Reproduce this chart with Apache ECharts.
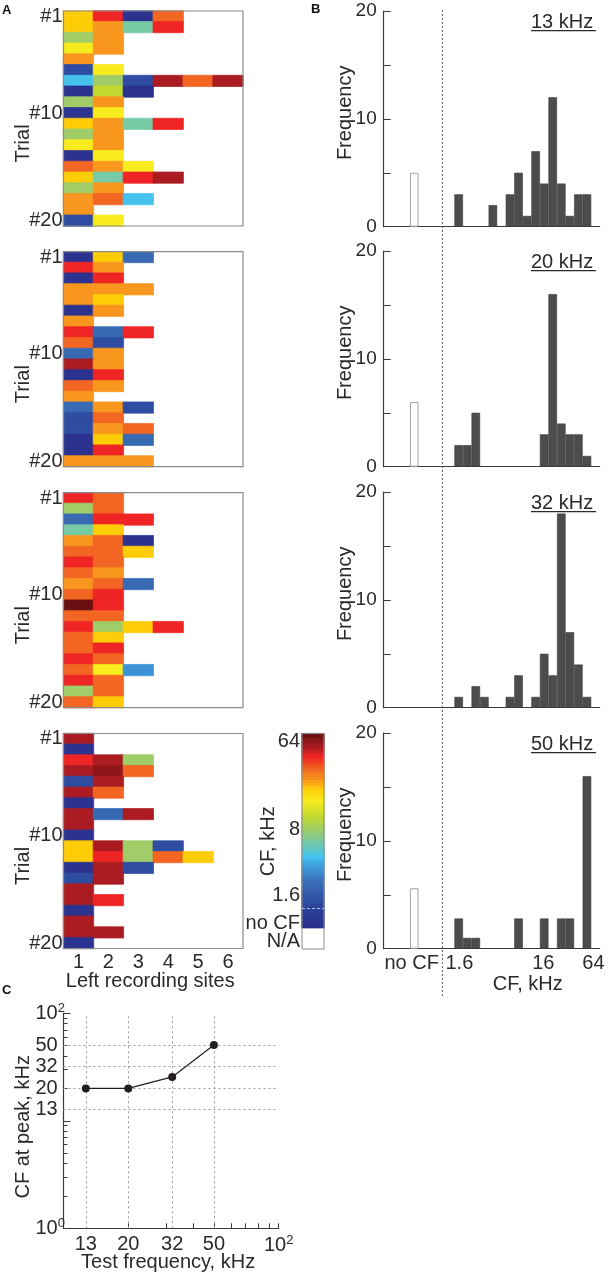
<!DOCTYPE html>
<html>
<head>
<meta charset="utf-8">
<style>html,body{margin:0;padding:0;background:#fff}#c{width:608px;height:1275px}</style>
<script src="https://cdn.jsdelivr.net/npm/echarts@6/dist/echarts.min.js"></script>
</head>
<body>
<div id="c"></div>
<script>
// colour levels (position along the colour bar, 0-100); null = N/A
const D=2,B=13,M=22,P=30,C=37,T=44,G=51,L=58,Y=66,F=72,O=77,R=83,E=89,K=94,W=97,X=100;
const sites=['1','2','3','4','5','6'];
const trialLabels=['#1','','','','','','','','','#10','','','','','','','','','','#20'];
const trials13=[[F,E,D,R],[F,O,T,E],[G,O],[Y,O],[O],[B,Y],[C,G,B,K,R,K],[D,L,D],[G,O],[D,Y],[F,O,T,E],[G,O],[Y,O],[D,Y],[R,O,Y],[F,T,E,K],[G,O],[O,R,C],[O],[B,Y]];
const trials20=[[D,F,M],[E,O],[D,E],[O,O,O],[O,F],[D,O],[O],[E,M,E],[R,B],[M,O],[K,O],[D,E],[R,O],[O],[M,O,B],[B,R],[B,O,R],[D,F,M],[D,E],[O,O,O]];
const trials32=[[E,R],[G,R],[M,E,E],[T,F],[O,R,D],[R,R,F],[E,R],[R,O],[O,R,M],[R,E],[X,E],[R,R],[E,G,F,E],[R,F],[R,E],[E,R],[R,Y,P],[E,R],[G,R],[R,F]];
const trials50=[[K],[D],[E,K,G],[K,W,R],[B,K],[K,R],[D],[K,M,K],[K],[D],[F,K,G,B],[F,E,G,R,F],[D,K,B],[B,K],[K],[K,E],[D],[K],[K,K],[D]];
const trialPanels=[trials13,trials20,trials32,trials50];

// histogram: 1/3-octave CF bins (index 0 = 1.6 kHz bin), no-CF count apart
const cfBins=[0,1,2,3,4,5,6,7,8,9,10,11,12,13,14,15];
const counts13=[3,0,0,0,2,0,3,5,1,7,4,12,4,1,3,3];
const counts20=[2,2,5,0,0,0,0,0,0,0,3,16,4,3,3,1];
const counts32=[1,0,2,1,0,0,1,3,0,1,5,3,18,7,4,1];
const counts50=[2.8,1,1,0,0,0,0,2.8,0,0,2.8,0,2.8,2.8,0,16];
const histPanels=[counts13,counts20,counts32,counts50];
const noCfCounts=[5,6,0,5.6];
const noCfBin=-5.2;
const dividerBin=-1.4;
const testNames=['13 kHz','20 kHz','32 kHz','50 kHz'];
const cfTickValues=[-5,0.58,10.4,16.26];
const cfTickLabels=['no CF','1.6','16','64'];

// panel C
const testFreq=[12.7,20,32,50];
const cfAtPeak=[20,20,25.6,50.8];
const refLevels=[12.7,20,32,50];
const xLabelValues=[12.7,20,32,50,100];
const xLabelTexts=['13','20','32','50','{b|10}{s|2}'];
const yLabelValues=[1,12.7,20,32,50,100];
const yLabelTexts=['{b|10}{s|0}','13','20','32','50','{b|10}{s|2}'];
const logMinorX=[20,30,40,50,60,70,80,90,100];
const logMinorY=[2,3,4,5,6,7,8,9,20,30,40,50,60,70,80,90];
const logMajorY=[10,100];

// colour bar
const cbLabels={2:'N/A',8:'no CF',17:'1.6',39:'8',68:'64'};
const cbRows=71, cbBlank=7, cbDashRow=13;
const colourStops=[[0,'#2b2e8d'],[11,'#2c469e'],[24,'#3a70b8'],[30,'#3c94d6'],[37,'#45c3ee'],[44,'#76caa6'],[51,'#a0cd67'],[58,'#c4d92f'],[66,'#f9ec1e'],[72,'#ffcc08'],[77,'#f8961d'],[83,'#f26522'],[89,'#ee2524'],[94,'#aa1c22'],[97,'#8f161b'],[100,'#6b1012']];

const FONT='"Liberation Sans", Arial, sans-serif', INK='#2b2a29';
function hex(c){return [1,3,5].map(i=>parseInt(c.substr(i,2),16));}
const ramp=[];
for(let v=0;v<=100;v++){
  let j=0; while(j<colourStops.length-2&&colourStops[j+1][0]<v) j++;
  const a=colourStops[j],b=colourStops[j+1],t=(v-a[0])/(b[0]-a[0]);
  const ca=hex(a[1]),cb=hex(b[1]);
  ramp.push('rgb('+ca.map((x,i)=>Math.round(x+(cb[i]-x)*t)).join(',')+')');
}
const cell=(x,y,v)=>({value:[x,y,v],itemStyle:{borderColor:ramp[v],borderWidth:0.7}});

const grid=[],xAxis=[],yAxis=[],series=[],title=[],graphic=[];
const heatSeriesIdx=[];
const txt=(size,extra)=>Object.assign({fontFamily:FONT,fontSize:size,color:INK},extra||{});

// Panel A
const heatTops=[11,251.7,492.7,733.5];
trialPanels.forEach((rows,p)=>{
  const g=grid.length;
  grid.push({left:63.5,top:heatTops[p],width:179.5,height:215,show:true,z:3,backgroundColor:'transparent',borderColor:'#8c8c8c',borderWidth:1.2});
  xAxis.push({gridIndex:g,type:'category',data:sites,axisLine:{show:false},axisTick:{show:false},
    axisLabel:p===3?txt(20,{margin:4,interval:0}):{show:false},
    name:p===3?'Left recording sites':'',nameLocation:'middle',nameGap:23,nameMoveOverlap:false,
    nameTextStyle:txt(20,{padding:[0,6,0,0]})});
  yAxis.push({gridIndex:g,type:'category',inverse:true,data:trialLabels,axisLine:{show:false},axisTick:{show:false},
    axisLabel:txt(20,{margin:1,interval:0,padding:[3,0,0,0]}),
    name:'Trial',nameLocation:'middle',nameGap:30,nameMoveOverlap:false,nameTextStyle:txt(20,{padding:[0,50,0,0]})});
  const data=[];
  rows.forEach((r,y)=>r.forEach((v,x)=>{ if(v!==null) data.push(cell(x,y,v)); }));
  heatSeriesIdx.push(series.length);
  series.push({type:'heatmap',xAxisIndex:g,yAxisIndex:g,data,silent:true,progressive:0});
});

// Colour bar
{
  const g=grid.length;
  grid.push({left:302,top:733.7,width:22,height:215.3,show:true,z:3,backgroundColor:'transparent',borderColor:'#8c8c8c',borderWidth:1});
  xAxis.push({gridIndex:g,type:'category',data:[''],show:false});
  const cats=[],data=[];
  for(let i=0;i<cbRows;i++){
    cats.push(cbLabels[i]||'');
    if(i>=cbBlank) data.push(cell(0,i,Math.round((i-cbBlank)/(cbRows-cbBlank-1)*100)));
  }
  yAxis.push({gridIndex:g,type:'category',data:cats,axisLine:{show:false},axisTick:{show:false},
    axisLabel:txt(20,{margin:2,interval:0}),
    name:'CF, kHz',nameLocation:'middle',nameGap:24,nameMoveOverlap:false,nameTextStyle:txt(20,{padding:[0,0,0,0]})});
  heatSeriesIdx.push(series.length);
  series.push({type:'heatmap',xAxisIndex:g,yAxisIndex:g,data,silent:true,progressive:0,
    markLine:{silent:true,symbol:'none',label:{show:false},lineStyle:{color:'#ffffff',type:[3,2],width:0.8,opacity:0.8},data:[{yAxis:cbDashRow}]}});
}

// Panel B
const histTops=[11,251,492,733];
const binPx=8.55, axisMin=-8.27, axisMax=16.99;
histPanels.forEach((counts,p)=>{
  const g=grid.length;
  const last=p===3;
  grid.push({left:383.7,top:histTops[p],width:(axisMax-axisMin)*binPx,height:215.7});
  xAxis.push({gridIndex:g,type:'value',min:axisMin,max:axisMax,splitLine:{show:false},
    axisLine:{show:true,onZero:false,lineStyle:{color:'#3a3a3a',width:1.2}},axisTick:{show:false},
    axisLabel:last?txt(20,{margin:5,customValues:cfTickValues,formatter:v=>cfTickLabels[cfTickValues.indexOf(v)]}):{show:false},
    name:last?'CF, kHz':'',nameLocation:'middle',nameGap:26,nameMoveOverlap:false,nameTextStyle:txt(20,{padding:[0,0,0,72]})});
  yAxis.push({gridIndex:g,type:'value',min:0,max:20,interval:5,splitLine:{show:false},
    axisLine:{show:true,onZero:false,lineStyle:{color:'#3a3a3a',width:1.2}},
    axisTick:{show:true,inside:true,length:7,lineStyle:{color:'#3a3a3a',width:1}},
    axisLabel:txt(19,{margin:7,formatter:v=>v%10===0?String(v):''}),
    name:'Frequency',nameLocation:'middle',nameGap:28,nameMoveOverlap:false,nameTextStyle:txt(20,{padding:[0,0,0,12]})});
  series.push({type:'bar',xAxisIndex:g,yAxisIndex:g,barWidth:binPx,barGap:'-100%',silent:true,
    itemStyle:{color:'#4c4c4e',borderColor:'#3b3b3d',borderWidth:0.6},
    data:cfBins.map((b,i)=>[b+0.5,counts[i]]).filter(d=>d[1]>0)});
  if(noCfCounts[p]>0) series.push({type:'bar',xAxisIndex:g,yAxisIndex:g,barWidth:binPx,barGap:'-100%',silent:true,
    itemStyle:{color:'#ffffff',borderColor:'#a3a3a3',borderWidth:1},
    data:[[noCfBin+0.5,noCfCounts[p]]]});
  title.push({text:testNames[p],left:531,top:histTops[p]+1.5,padding:0,textStyle:txt(20,{fontWeight:'normal'})});
  graphic.push({type:'rect',silent:true,shape:{x:531,y:histTops[p]+19,width:65,height:1.2},style:{fill:'#2b2a29'}});
});

// CF divider across panel B
{
  const g=grid.length;
  grid.push({left:383.7,top:9,width:(axisMax-axisMin)*binPx,height:987});
  xAxis.push({gridIndex:g,type:'value',min:axisMin,max:axisMax,show:false});
  yAxis.push({gridIndex:g,type:'value',min:0,max:1,show:false});
  series.push({type:'line',xAxisIndex:g,yAxisIndex:g,silent:true,symbol:'none',z:5,
    lineStyle:{color:'#6d6e71',width:1.1,type:[2,2]},data:[[dividerBin,0],[dividerBin,1]]});
}

// Panel C
{
  const g=grid.length;
  const rich={b:{fontFamily:FONT,fontSize:20,color:INK},s:{fontFamily:FONT,fontSize:13,color:INK,verticalAlign:'top',padding:[0,0,9,0]}};
  grid.push({left:63.5,top:1013.3,width:215.2,height:215});
  const xi=xAxis.length, yi=yAxis.length;
  xAxis.push({gridIndex:g,type:'log',logBase:10,min:10,max:100,splitLine:{show:false},minorTick:{show:false},
    axisLine:{show:true,onZero:false,lineStyle:{color:'#3a3a3a',width:1.2}},
    axisTick:{show:true,inside:true,length:5,customValues:logMinorX,lineStyle:{color:'#3a3a3a'}},
    axisLabel:txt(20,{margin:6,customValues:xLabelValues,formatter:v=>xLabelTexts[xLabelValues.indexOf(v)],rich}),
    name:'Test frequency, kHz',nameLocation:'middle',nameGap:24,nameMoveOverlap:false,nameTextStyle:txt(20,{padding:[0,6,0,0]})});
  yAxis.push({gridIndex:g,type:'log',logBase:10,min:1,max:100,splitLine:{show:false},minorTick:{show:false},
    axisLine:{show:true,onZero:false,lineStyle:{color:'#3a3a3a',width:1.2}},
    axisTick:{show:true,inside:true,length:4,customValues:logMinorY,lineStyle:{color:'#3a3a3a'}},
    axisLabel:txt(20,{margin:28,align:'left',customValues:yLabelValues,formatter:v=>yLabelTexts[yLabelValues.indexOf(v)],rich}),
    name:'CF at peak, kHz',nameLocation:'middle',nameGap:30,nameMoveOverlap:false,nameTextStyle:txt(20,{padding:[0,12,0,0]})});
  yAxis.push({gridIndex:g,type:'log',logBase:10,min:1,max:100,position:'left',splitLine:{show:false},minorTick:{show:false},
    axisLine:{show:false},axisLabel:{show:false},
    axisTick:{show:true,inside:true,length:7,customValues:logMajorY,lineStyle:{color:'#3a3a3a'}}});
  series.push({type:'line',xAxisIndex:xi,yAxisIndex:yi,silent:true,z:1,symbol:'none',data:[],
    markLine:{z:1,silent:true,symbol:'none',label:{show:false},lineStyle:{color:'#9a9a9a',type:[2,3],width:1},
      data:refLevels.map(v=>({xAxis:v})).concat(refLevels.map(v=>({yAxis:v})))}});
  series.push({type:'line',xAxisIndex:xi,yAxisIndex:yi,silent:true,z:3,symbol:'circle',symbolSize:8,
    itemStyle:{color:'#231f20'},lineStyle:{color:'#231f20',width:1.2},
    data:testFreq.map((f,i)=>[f,cfAtPeak[i]])});
}

// Panel letters
[['A',2,4],['B',311,3],['C',2,984]].forEach(l=>title.push({text:l[0],left:l[1],top:l[2],padding:0,
  textStyle:{fontFamily:FONT,fontSize:13,fontWeight:'bold',color:'#111'}}));

const chart=echarts.init(document.getElementById('c'),null,{renderer:'canvas'});
chart.setOption({
  animation:false,backgroundColor:'#ffffff',tooltip:{show:false},
  title,grid,xAxis,yAxis,series,graphic,
  visualMap:{show:false,type:'continuous',min:0,max:100,seriesIndex:heatSeriesIdx,inRange:{color:ramp}}
});
</script>
</body>
</html>
